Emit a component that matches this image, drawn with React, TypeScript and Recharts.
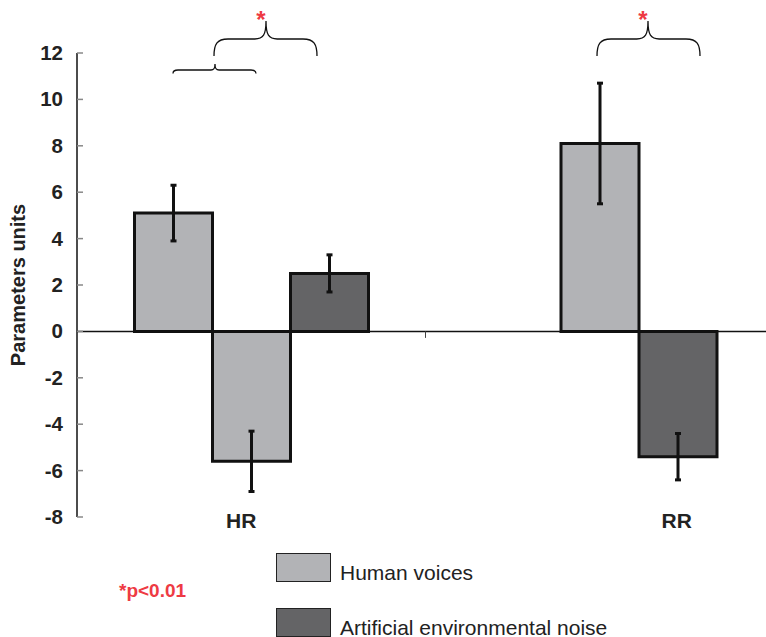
import React from 'react'
import {
  BarChart,
  Bar,
  XAxis,
  YAxis,
  ErrorBar,
  ReferenceLine,
} from 'recharts'

// categories and series
const categories = ['HR', 'RR']
const voicesA = [5.1, null]
const voicesB = [-5.6, 8.1]
const noise = [2.5, -5.4]
const voicesAErr = [1.2, null]
const voicesBErr = [1.3, 2.6]
const noiseErr = [0.8, 1.0]
const yTicks = [-8, -6, -4, -2, 0, 2, 4, 6, 8, 10, 12]
const legendItems = ['Human voices', 'Artificial environmental noise']

const LIGHT = '#b2b3b6'
const DARK = '#646466'
const EDGE = '#111'
const RED = '#ee3a43'
const FONT = '"Liberation Sans", Arial, Helvetica, sans-serif'

const data = categories.map((cat, i) => ({
  cat,
  a: voicesA[i],
  aErr: voicesAErr[i],
  b: voicesB[i],
  bErr: voicesBErr[i],
  c: noise[i],
  cErr: noiseErr[i],
}))

// category labels in the original sit off-centre
const LABEL_SHIFT: Record<string, number> = { HR: -10, RR: 77 }

const XTick = (props: any) => {
  const { x, y, payload } = props
  return (
    <text
      x={x + (LABEL_SHIFT[payload.value] ?? 0)}
      y={y}
      dy={11}
      textAnchor="middle"
      fontFamily={FONT}
      fontWeight="bold"
      fontSize={21}
      fill="#222"
    >
      {payload.value}
    </text>
  )
}

const YTick = (props: any) => {
  const { x, y, payload } = props
  return (
    <g>
      <text
        x={x}
        y={y}
        dy={7}
        textAnchor="end"
        fontFamily={FONT}
        fontWeight="bold"
        fontSize={20.5}
        fill="#222"
      >
        {payload.value}
      </text>
      <line x1={x + 14} x2={x + 20} y1={y} y2={y} stroke="#888" strokeWidth={1.5} />
    </g>
  )
}

const YLabel = (props: any) => {
  const { viewBox } = props
  const cx = viewBox.x + 25
  const cy = viewBox.y + viewBox.height / 2
  return (
    <text
      x={cx}
      y={cy}
      transform={`rotate(-90 ${cx} ${cy})`}
      textAnchor="middle"
      fontFamily={FONT}
      fontWeight="bold"
      fontSize={20}
      fill="#222"
    >
      Parameters units
    </text>
  )
}

const LegendBox = () => (
  <div style={{ position: 'absolute', left: 276, top: 553, fontFamily: FONT }}>
    {legendItems.map((name, i) => (
      <div key={name} style={{ display: 'flex', alignItems: 'center', height: 29, marginBottom: 26 }}>
        <div
          style={{
            width: 53,
            height: 27,
            background: i === 0 ? LIGHT : DARK,
            border: '1.5px solid #222',
            marginRight: 9,
          }}
        />
        <span style={{ fontSize: 21, color: '#222', whiteSpace: 'nowrap', paddingTop: 10 }}>{name}</span>
      </div>
    ))}
  </div>
)

const brace = (xl: number, xr: number, xc: number, yEnd: number, yMid: number, yPeak: number, r: number) =>
  `M ${xl} ${yEnd} C ${xl} ${yMid + r * 0.4} ${xl + r * 0.2} ${yMid} ${xl + r} ${yMid}` +
  ` L ${xc - r * 0.8} ${yMid} C ${xc - r * 0.2} ${yMid} ${xc} ${yMid - r * 0.3} ${xc} ${yPeak}` +
  ` C ${xc} ${yMid - r * 0.3} ${xc + r * 0.2} ${yMid} ${xc + r * 0.8} ${yMid}` +
  ` L ${xr - r} ${yMid} C ${xr - r * 0.2} ${yMid} ${xr} ${yMid + r * 0.4} ${xr} ${yEnd}`

export default function App() {
  return (
    <div style={{ position: 'fixed', left: 0, top: 0, width: 766, height: 637, overflow: 'hidden', background: '#fff' }}>
      <BarChart
        width={774}
        height={637}
        data={data}
        margin={{ top: 53, right: 0, left: 0, bottom: 80 }}
        barCategoryGap="16.5%"
        barGap={0}
      >
        <XAxis
          dataKey="cat"
          axisLine={false}
          tickLine={false}
          tickSize={0}
          tickMargin={0}
          height={40}
          tick={<XTick />}
        />
        <YAxis
          width={77}
          domain={[-8, 12]}
          ticks={yTicks}
          interval={0}
          axisLine={{ stroke: EDGE, strokeWidth: 1.5 }}
          tickLine={false}
          tickSize={0}
          tickMargin={14}
          tick={<YTick />}
          label={<YLabel />}
        />
        <ReferenceLine y={0} stroke={EDGE} strokeWidth={1.5} />
        <ReferenceLine
          segment={[{ x: 'HR', y: 0 }, { x: 'HR', y: -0.28 }]}
          position="end"
          stroke="#444"
          strokeWidth={1}
        />
        <Bar dataKey="a" fill={LIGHT} stroke={EDGE} strokeWidth={3} isAnimationActive={false}>
          <ErrorBar dataKey="aErr" width={3} stroke={EDGE} strokeWidth={3} />
        </Bar>
        <Bar dataKey="b" fill={LIGHT} stroke={EDGE} strokeWidth={3} isAnimationActive={false}>
          <ErrorBar dataKey="bErr" width={3} stroke={EDGE} strokeWidth={3} />
        </Bar>
        <Bar dataKey="c" fill={DARK} stroke={EDGE} strokeWidth={3} isAnimationActive={false}>
          <ErrorBar dataKey="cErr" width={3} stroke={EDGE} strokeWidth={3} />
        </Bar>
      </BarChart>

      <LegendBox />

      <svg
        width={766}
        height={637}
        style={{ position: 'absolute', left: 0, top: 0, pointerEvents: 'none' }}
      >
        <g fill="none" stroke="#111" strokeWidth={1.3}>
          <path d={brace(214, 317, 266, 56, 39, 21, 14)} />
          <path d={brace(173, 256, 215, 73.5, 70, 64, 5)} />
          <path d={brace(597, 700, 648, 56, 39, 21, 14)} />
        </g>
        <g fill={RED} fontFamily={FONT} fontWeight="bold" fontSize={24} textAnchor="middle">
          <text x={261} y={28}>*</text>
          <text x={643} y={28}>*</text>
        </g>
        <text x={119} y={597} fill={RED} fontFamily={FONT} fontWeight="bold" fontSize={19}>
          *p&lt;0.01
        </text>
      </svg>
    </div>
  )
}
